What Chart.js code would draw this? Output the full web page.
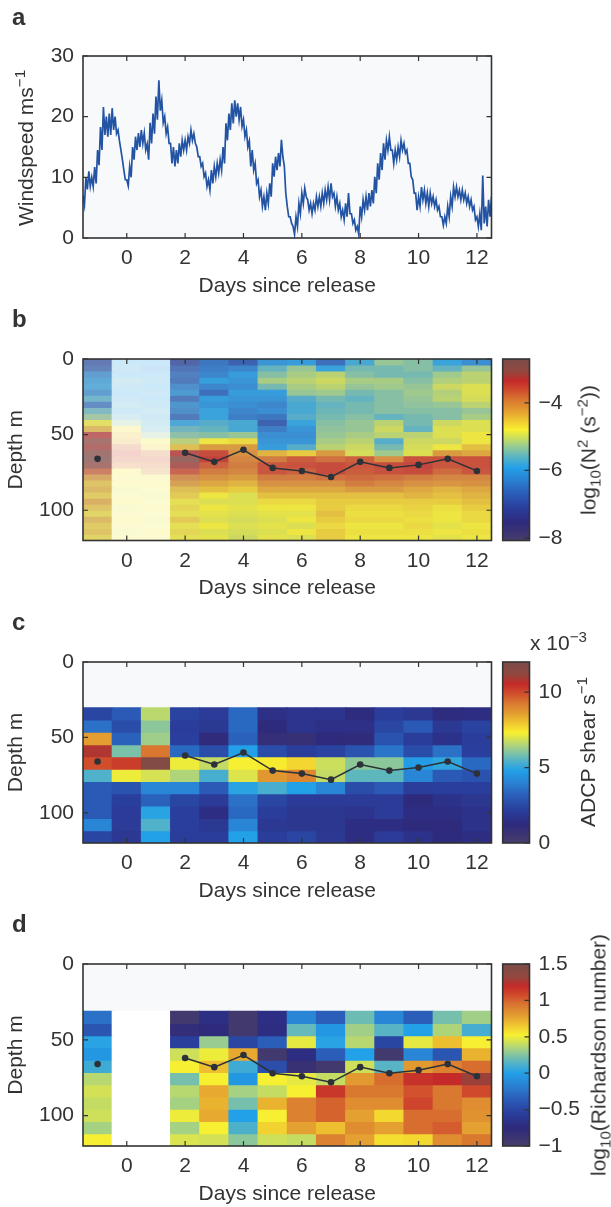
<!DOCTYPE html>
<html><head><meta charset="utf-8">
<script src="https://cdn.jsdelivr.net/npm/chart.js@4.4.1/dist/chart.umd.min.js"></script>
<style>
html,body{margin:0;padding:0;background:#fff;}
body{width:611px;height:1207px;position:relative;overflow:hidden;font-family:"Liberation Sans",Arial,Helvetica,sans-serif;color:#333;}
canvas{position:absolute;left:0;top:0;}
.letter{position:absolute;left:12px;font-weight:bold;font-size:24px;line-height:24px;z-index:5;}
.rot{position:absolute;white-space:nowrap;font-size:21px;line-height:21px;transform:translate(-50%,-50%) rotate(-90deg);z-index:5;}
.txt{position:absolute;white-space:nowrap;font-size:21px;line-height:21px;z-index:5;}
.sup{position:relative;top:-0.5em;font-size:0.72em;}
.sub{position:relative;top:0.3em;font-size:0.72em;}
</style></head><body>
<canvas id="cA" width="611" height="1207"></canvas>
<canvas id="cB" width="611" height="1207"></canvas>
<canvas id="cBbar" width="611" height="1207"></canvas>
<canvas id="cC" width="611" height="1207"></canvas>
<canvas id="cCbar" width="611" height="1207"></canvas>
<canvas id="cD" width="611" height="1207"></canvas>
<canvas id="cDbar" width="611" height="1207"></canvas>

<div class="letter" style="top:5px">a</div>
<div class="letter" style="top:307px">b</div>
<div class="letter" style="top:610px">c</div>
<div class="letter" style="top:912px">d</div>
<div class="rot" style="left:26px;top:148px">Windspeed ms<span class="sup">−1</span></div>
<div class="rot" style="left:589px;top:450px">log<span class="sub">10</span>(N<span class="sup">2</span> (s<span class="sup">−2</span>))</div>
<div class="txt" style="left:530px;top:632px">x 10<span class="sup">−3</span></div>
<div class="rot" style="left:588px;top:752px">ADCP shear s<span class="sup">−1</span></div>
<div class="rot" style="left:599px;top:1055px">log<span class="sub">10</span>(Richardson number)</div>

<script>
// ---------------- DATA ----------------
const days = [-1,0,1,2,3,4,5,6,7,8,9,10,11,12];
const xTickValues = [0,2,4,6,8,10,12];
const windTickValues = [0,10,20,30];
const depthTickValues = [0,50,100];
const n2TickValues = [-8,-6,-4];
const shearTickValues = [0,5,10];
const riTickValues = [-1,-0.5,0,0.5,1,1.5];

// windspeed envelope, samples every 0.1 day from -1.5 to 12.5
const windStartDay = -1.5;
const windStepDay = 0.1;
const windHigh = [
 7.0,10.0,11.0,10.0,11.7,14.5,18.3,21.6,20.0,20.5,
 21.4,20.0,17.8,14.5,11.2,9.6,11.8,15.0,16.7,17.3,
 17.8,17.3,15.5,19.0,20.5,23.3,26.0,22.7,20.0,18.3,
 15.6,15.0,14.5,15.6,16.1,16.1,16.7,17.8,17.2,15.0,
 13.4,12.3,10.7,9.6,11.2,11.8,12.3,12.9,15.0,18.9,
 20.5,22.2,22.7,22.2,21.6,19.5,17.8,16.0,14.5,12.3,
 9.6,7.9,6.8,7.4,9.0,12.3,13.4,14.0,16.2,11.8,
 5.2,3.5,1.9,3.5,5.7,7.4,8.2,6.3,5.7,5.7,
 6.8,6.8,7.4,7.9,8.4,9.0,7.4,6.8,5.7,4.6,
 5.7,7.4,4.0,3.0,1.9,5.2,6.3,6.8,7.4,7.9,
 10.1,12.3,14.0,15.6,16.1,16.7,14.5,14.5,15.0,16.1,
 15.6,14.5,12.3,9.6,7.4,6.8,8.4,7.9,7.4,7.4,
 6.8,6.3,5.2,3.5,3.5,5.2,6.8,8.4,8.4,7.9,
 7.9,7.4,6.8,6.3,5.2,3.5,4.0,10.3,5.2,6.3,
 6.8];
const windLow = [
 5.5,8.0,8.5,8.5,9.0,12.0,14.5,17.0,16.7,17.0,
 17.8,17.2,16.0,12.9,9.6,8.6,10.0,12.9,14.5,15.0,
 15.6,14.5,12.9,15.6,17.2,19.5,21.0,19.0,17.2,15.6,
 12.3,11.8,12.3,13.4,14.5,14.5,15.6,16.1,15.6,13.4,
 11.8,10.1,8.5,7.9,9.0,10.1,10.7,11.2,12.3,16.1,
 17.8,18.9,20.0,19.5,18.4,16.7,15.0,11.8,11.2,9.0,
 6.8,5.2,4.6,5.7,6.8,10.1,11.2,11.8,13.4,7.4,
 3.5,2.4,0.6,1.9,4.0,5.7,6.8,4.6,4.0,4.6,
 5.2,5.2,5.7,6.3,6.3,6.8,5.2,4.6,3.5,3.0,
 3.5,4.0,2.4,1.3,0.6,3.5,4.6,4.6,5.2,5.7,
 7.4,9.6,11.2,12.9,14.5,14.5,12.3,12.9,13.4,14.5,
 14.0,12.3,10.1,7.4,4.6,5.2,6.3,5.7,5.2,5.7,
 5.2,4.6,3.5,2.1,2.4,3.5,5.2,6.8,6.8,6.3,
 6.3,5.7,5.2,4.6,3.0,1.9,1.3,2.4,1.9,3.5,
 5.2];

// mixed layer depth (m) per day (no estimate on days 0 and 1)
const mixedLayerDepth = [66,null,null,62,68,60,72,74,78,68,72,70,66,74];

// N2 profiles: log10(N^2), one profile per day, 4 m bins 0..120 m
const n2DepthEdges = [0,4,8,12,16,20,24,28,32,36,40,44,48,52,56,60,64,68,72,76,80,84,88,92,96,100,104,108,112,116,120];
const n2Profiles = [
 [-6.9,-6.7,-6.2,-6.0,-5.9,-6.2,-5.7,-6.5,-5.6,-5.3,-4.8,-4.4,-3.3,-3.1,-3.2,-3.0,-2.9,-3.1,-3.7,-4.2,-4.5,-4.4,-4.6,-4.3,-4.5,-4.7,-4.4,-4.6,-4.5,-4.7],
 [-5.9,-5.8,-5.9,-5.7,-5.8,-5.9,-5.8,-5.7,-5.8,-5.6,-5.3,-4.7,-4.5,-4.4,-3.8,-3.6,-3.7,-4.0,-4.8,-4.85,-4.8,-4.9,-4.85,-4.8,-4.9,-4.85,-4.8,-4.85,-4.9,-4.85],
 [-5.9,-6.1,-5.9,-5.8,-5.9,-5.8,-5.9,-5.8,-5.7,-5.8,-5.7,-5.6,-5.3,-4.8,-4.6,-3.9,-3.7,-3.9,-4.1,-4.85,-4.8,-4.85,-4.9,-4.85,-4.8,-4.85,-4.9,-4.85,-4.8,-4.85],
 [-7.0,-6.7,-6.5,-6.6,-6.3,-6.1,-6.6,-6.2,-6.3,-6.6,-5.9,-5.6,-5.4,-5.1,-4.5,-3.3,-3.0,-3.2,-3.6,-4.0,-4.2,-4.5,-4.6,-4.8,-4.7,-4.8,-4.6,-4.8,-4.7,-4.8],
 [-6.5,-6.4,-6.3,-5.95,-6.3,-6.6,-6.0,-6.1,-5.9,-5.9,-5.7,-5.6,-5.4,-4.8,-4.2,-3.5,-3.4,-3.7,-3.9,-4.1,-4.3,-4.5,-4.8,-4.9,-4.8,-4.85,-4.9,-4.8,-4.9,-4.85],
 [-6.8,-6.3,-6.0,-6.1,-6.2,-6.0,-6.1,-6.2,-6.3,-6.4,-5.8,-5.8,-5.3,-4.7,-4.2,-4.1,-4.0,-3.9,-4.0,-4.2,-4.4,-4.6,-4.9,-4.9,-4.85,-4.9,-4.95,-4.9,-4.95,-5.0],
 [-6.1,-5.6,-5.4,-5.2,-5.5,-6.0,-6.1,-6.3,-6.2,-6.5,-6.8,-6.4,-6.2,-6.1,-6.0,-4.4,-3.9,-3.6,-3.6,-3.9,-4.1,-4.3,-4.5,-4.7,-4.8,-4.85,-4.9,-4.85,-4.9,-4.85],
 [-6.0,-5.3,-5.2,-5.1,-5.2,-5.3,-5.7,-5.8,-5.8,-5.7,-5.9,-6.1,-6.2,-6.1,-5.7,-4.6,-3.65,-3.55,-3.7,-3.9,-4.1,-4.3,-4.5,-4.7,-4.8,-4.85,-4.8,-4.9,-4.8,-4.9],
 [-6.6,-5.9,-5.1,-5.0,-5.1,-5.25,-5.5,-5.6,-5.55,-5.5,-5.4,-5.35,-5.3,-5.2,-5.1,-4.2,-3.8,-3.5,-3.5,-3.8,-4.1,-4.3,-4.5,-4.6,-4.6,-4.5,-4.6,-4.7,-4.6,-4.6],
 [-5.8,-5.5,-5.4,-5.2,-5.3,-5.5,-5.6,-5.5,-5.5,-5.4,-5.3,-5.3,-5.2,-5.1,-5.0,-4.95,-3.7,-3.6,-3.65,-3.75,-3.9,-4.2,-4.5,-4.6,-4.7,-4.75,-4.7,-4.8,-4.75,-4.8],
 [-5.3,-5.5,-5.5,-5.2,-5.25,-5.4,-5.4,-5.4,-5.4,-5.6,-5.1,-5.0,-5.1,-5.7,-5.5,-5.25,-4.1,-3.5,-3.55,-3.8,-4.0,-4.2,-4.5,-4.6,-4.7,-4.75,-4.7,-4.8,-4.75,-4.8],
 [-5.4,-5.4,-5.5,-5.4,-5.3,-5.25,-5.3,-5.35,-5.4,-5.5,-5.5,-5.6,-5.1,-5.0,-4.95,-4.9,-3.55,-3.45,-3.5,-3.9,-4.1,-4.3,-4.4,-4.6,-4.65,-4.7,-4.75,-4.7,-4.75,-4.8],
 [-5.9,-5.6,-5.25,-5.15,-5.0,-5.15,-5.1,-5.3,-5.4,-5.4,-5.0,-4.9,-4.9,-5.0,-4.8,-4.2,-3.55,-3.6,-3.75,-4.0,-4.15,-4.4,-4.5,-4.6,-4.75,-4.8,-4.8,-4.85,-4.8,-4.85],
 [-6.2,-5.3,-5.1,-5.1,-4.9,-4.9,-4.95,-5.1,-5.3,-5.2,-4.9,-4.9,-4.8,-4.8,-4.5,-4.3,-3.55,-3.55,-3.6,-4.0,-4.1,-4.3,-4.4,-4.5,-4.6,-4.7,-4.7,-4.8,-4.75,-4.8]
];

// ADCP shear (x1e-3 s^-1): one row per depth bin, values across days
const shearDepthEdges = [30.3,38.5,46.6,54.8,62.9,71.1,79.2,87.4,95.5,103.7,111.8,120];
const shearRows = [
 [2.4,3.0,6.6,2.3,2.0,3.4,1.5,1.7,1.7,1.3,2.1,1.9,1.3,1.4],
 [3.6,2.6,6.1,2.1,1.9,3.4,1.2,1.7,1.5,1.5,2.4,3.0,1.9,2.3],
 [8.6,3.2,6.3,2.2,1.1,3.2,0.9,0.8,1.2,1.1,2.8,2.1,1.6,2.1],
 [10.8,5.9,9.3,3.4,2.6,4.8,2.6,2.1,2.3,2.8,3.7,2.6,3.6,2.2],
 [9.9,10.2,11.7,7.2,6.7,7.3,7.4,7.7,6.8,6.1,6.1,4.7,5.0,3.4],
 [5.4,7.2,6.9,6.5,5.3,7.0,8.7,9.0,6.7,5.6,5.6,4.1,3.0,2.8],
 [3.0,2.8,4.1,4.1,3.0,4.9,5.3,4.8,4.1,2.6,3.0,2.1,2.2,2.2],
 [3.0,2.2,3.2,2.4,2.0,3.6,2.4,2.0,2.0,2.0,2.0,1.2,1.6,1.8],
 [3.0,2.0,4.9,2.2,1.4,3.4,2.1,1.8,1.8,1.7,2.0,1.4,1.4,1.6],
 [4.1,2.0,5.4,2.2,1.9,4.1,1.9,1.8,1.8,1.4,1.4,1.2,1.2,1.6],
 [2.4,1.9,4.8,2.1,2.1,4.8,2.1,2.4,1.9,1.4,2.0,1.6,1.2,1.4]
];

// log10 Richardson number: one row per depth bin (null = no data)
const riDepthEdges = [31.1,39.2,47.3,55.3,63.4,71.5,79.6,87.7,95.8,103.8,111.9,120];
const riRows = [
 [-0.25,null,null,-0.95,-0.7,-0.95,-0.7,-0.15,-0.35,0.2,-0.15,-0.35,0.22,0.32],
 [-0.4,null,null,-0.8,-0.75,-0.95,-0.72,0.18,-0.05,0.32,0.15,0.0,0.35,0.1],
 [0.02,null,null,-0.55,0.3,-0.5,-0.35,0.48,0.02,0.37,-0.5,0.48,0.68,0.52],
 [-0.05,null,null,0.42,0.5,0.75,-0.95,-0.72,-0.35,0.0,-0.95,-0.15,-0.4,0.72],
 [0.08,null,null,0.52,0.68,0.08,-0.45,-0.85,-0.95,0.42,0.15,0.8,0.9,0.97],
 [0.37,null,null,0.22,0.52,-0.05,0.52,0.48,0.4,0.8,0.97,1.17,1.2,1.3],
 [0.43,null,null,0.37,0.75,0.33,0.4,0.52,1.15,0.93,0.93,1.05,0.93,1.08],
 [0.4,null,null,0.33,0.72,0.22,0.72,0.9,1.0,0.85,0.85,1.1,0.93,0.85],
 [0.42,null,null,0.5,0.75,0.0,0.52,0.9,1.0,0.78,0.6,0.97,0.97,0.83],
 [0.33,null,null,0.33,0.52,0.12,0.62,0.78,0.68,0.85,0.78,0.97,1.02,0.78],
 [0.52,null,null,0.45,0.43,0.27,0.42,0.4,0.9,0.78,0.58,0.6,0.85,0.93]
];

// ---------------- STYLE / LAYOUT ----------------
const PAGE_W = 611, PAGE_H = 1207;
const PLOT_L = 83, PLOT_R = 491.5;
const CB_L = 502.7, CB_R = 529.5, CB_AXIS_W = 60;
const XAXIS_H = 60.6;
const PANEL = { a:[56,238], b:[359,540.5], c:[662,843], d:[964,1146] };
const N2_RANGE = [-8.08,-2.7], SHEAR_RANGE = [0,12], RI_RANGE = [-1,1.5];
const n2ColumnOpacity = [0.62,0.24,0.24,0.72,0.85,0.85,0.85,0.85,0.85,0.85,0.85,0.85,0.85,0.85];
const n2ColumnVeil = ['#c2c2c2','#ffffff','#ffffff','#b4b4b4','#a8a8a8','#a8a8a8','#a8a8a8','#a8a8a8','#a8a8a8','#a8a8a8','#a8a8a8','#a8a8a8','#a8a8a8','#a8a8a8'];
const PLOT_BG = '#f7f9fb';
const CMAP = [[0,'#473d6b'],[0.10,'#2e2a7c'],[0.18,'#2a3e9c'],[0.27,'#2a62bc'],[0.33,'#2a80d2'],[0.40,'#22a0e8'],[0.46,'#58b4c4'],[0.52,'#98cc90'],[0.57,'#d0e058'],[0.61,'#f8f030'],[0.66,'#f0c830'],[0.72,'#e29a30'],[0.78,'#d87430'],[0.83,'#d04a2c'],[0.88,'#c42a2a'],[0.93,'#92473e'],[1,'#7a4d4a']];

Chart.defaults.font.family = '"Liberation Sans", Arial, Helvetica, sans-serif';
Chart.defaults.font.size = 21;
Chart.defaults.color = '#333';
Chart.defaults.animation = false;

function rgbOf(h){ const n=parseInt(h.slice(1),16); return [(n>>16)&255,(n>>8)&255,n&255]; }
function cmapRGB(t){
  t = Math.max(0, Math.min(1, t));
  for (let i=1;i<CMAP.length;i++){
    if (t <= CMAP[i][0]) {
      const t0=CMAP[i-1][0], t1=CMAP[i][0]; const a=rgbOf(CMAP[i-1][1]), b=rgbOf(CMAP[i][1]);
      const f=(t-t0)/(t1-t0); return a.map((v,k)=>v+(b[k]-v)*f);
    }
  }
  return rgbOf(CMAP[CMAP.length-1][1]);
}
function cellColor(v, range, op, veil){
  if (v === null || v === undefined) return '#ffffff';
  const c = cmapRGB((v-range[0])/(range[1]-range[0]));
  const w = rgbOf(veil || '#ffffff'); const o = (op===undefined)?1:op;
  const m = c.map((x,k)=>Math.round(x*o + w[k]*(1-o)));
  return `rgb(${m[0]},${m[1]},${m[2]})`;
}
const minus = v => String(v).replace('-', '\u2212');

const framePlugin = {
  id: 'frame',
  beforeDraw(chart, _a, o) {
    if (!o.bg) return;
    const a = chart.chartArea, c = chart.ctx;
    c.save(); c.fillStyle = o.bg; c.fillRect(a.left, a.top, a.right-a.left, a.bottom-a.top); c.restore();
  },
  afterDraw(chart, _a, o) {
    const a = chart.chartArea, c = chart.ctx, L = 5;
    c.save(); c.strokeStyle = '#333'; c.lineWidth = 1.2; c.beginPath();
    if (o.xTicks) {
      const sx = chart.scales.x;
      sx.ticks.forEach(t => { const p = sx.getPixelForValue(t.value);
        c.moveTo(p, a.bottom); c.lineTo(p, a.bottom - L); c.moveTo(p, a.top); c.lineTo(p, a.top + L); });
    }
    if (o.yTicks) {
      const sy = chart.scales.y;
      sy.ticks.forEach(t => { const p = sy.getPixelForValue(t.value);
        if (o.yLeft !== false) { c.moveTo(a.left, p); c.lineTo(a.left + L, p); }
        c.moveTo(a.right, p); c.lineTo(a.right - L, p); });
    }
    c.stroke();
    c.lineWidth = 1.6; c.strokeRect(a.left, a.top, a.right-a.left, a.bottom-a.top);
    c.restore();
  }
};

function xScale(){
  return { type:'linear', min:-1.5, max:12.5, offset:false,
    grid:{display:false, drawTicks:false}, border:{display:false},
    ticks:{ padding:8, maxRotation:0, autoSkip:false },
    afterBuildTicks: s => { s.ticks = xTickValues.map(v=>({value:v})); },
    afterFit: s => { s.height = XAXIS_H; },
    title:{ display:true, text:'Days since release', padding:{top:0,bottom:0} } };
}
function depthScale(){
  return { type:'linear', reverse:true, min:0, max:120,
    grid:{display:false, drawTicks:false}, border:{display:false},
    ticks:{ padding:9 },
    afterBuildTicks: s => { s.ticks = depthTickValues.map(v=>({value:v})); },
    afterFit: s => { s.width = PLOT_L; },
    title:{ display:true, text:'Depth m', padding:{top:4,bottom:0} } };
}
function heatDatasets(getVal, edges, range, opac, veil){
  const out = [];
  for (let r=0; r<edges.length-1; r++){
    out.push({ type:'bar', order:2, grouped:false, barPercentage:1, categoryPercentage:1,
      borderWidth:0, inflateAmount:0.5,
      data: days.map(d => ({x:d, y:[edges[r], edges[r+1]]})),
      backgroundColor: days.map((d,i) => cellColor(getVal(i,r), range, opac?opac[i]:1, veil?veil[i]:'#ffffff')) });
  }
  return out;
}
function mldDataset(){
  return { type:'line', order:0, data: days.map((d,i)=>({x:d, y:mixedLayerDepth[i]})),
    borderColor:'#2d3138', backgroundColor:'#2d3138', borderWidth:1.5,
    pointRadius:3.3, pointBorderWidth:0, spanGaps:false, tension:0 };
}
function heatChart(id, panel, datasets, bg){
  const [top, bottom] = panel;
  return new Chart(document.getElementById(id), {
    type:'bar', data:{ datasets },
    options:{ responsive:false, animation:false, events:[],
      layout:{ padding:{ left:0, top, right: PAGE_W-PLOT_R, bottom: PAGE_H-bottom-XAXIS_H } },
      plugins:{ legend:{display:false}, tooltip:{enabled:false}, frame:{ bg, xTicks:true, yTicks:true } },
      scales:{ x: xScale(), y: depthScale() } },
    plugins:[framePlugin] });
}
function colorbar(id, panel, range, tickValues){
  const [top, bottom] = panel;
  return new Chart(document.getElementById(id), {
    type:'bar',
    data:{ labels:['scale'], datasets:[{ data:[[range[0], range[1]]], borderWidth:0,
      barPercentage:1, categoryPercentage:1,
      backgroundColor: (ctx) => { const a = ctx.chart.chartArea; if (!a) return '#888';
        const g = ctx.chart.ctx.createLinearGradient(0, a.bottom, 0, a.top);
        CMAP.forEach(([t,c]) => g.addColorStop(t, c)); return g; } }] },
    options:{ responsive:false, animation:false, events:[],
      layout:{ padding:{ left:CB_L, right: PAGE_W-CB_R-CB_AXIS_W, top, bottom: PAGE_H-bottom } },
      plugins:{ legend:{display:false}, tooltip:{enabled:false}, frame:{ yTicks:true, yLeft:false } },
      scales:{ x:{ display:false },
        y:{ position:'right', min:range[0], max:range[1],
          grid:{display:false, drawTicks:false}, border:{display:false},
          ticks:{ padding:9, callback: v => minus(v) },
          afterBuildTicks: s => { s.ticks = tickValues.map(v=>({value:v})); },
          afterFit: s => { s.width = CB_AXIS_W; } } } },
    plugins:[framePlugin] });
}

// ---------------- PANEL a ----------------
const windPoints = [];
windHigh.forEach((h,i) => {
  const t = windStartDay + i*windStepDay;
  windPoints.push({x:t, y:h});
  windPoints.push({x:t + windStepDay/2, y:windLow[i]});
});
new Chart(document.getElementById('cA'), {
  type:'line',
  data:{ datasets:[{ data: windPoints, borderColor:'#2353a3', borderWidth:1.7, pointRadius:0, tension:0 }] },
  options:{ responsive:false, animation:false, events:[],
    layout:{ padding:{ left:0, top:PANEL.a[0], right: PAGE_W-PLOT_R, bottom: PAGE_H-PANEL.a[1]-XAXIS_H } },
    plugins:{ legend:{display:false}, tooltip:{enabled:false}, frame:{ bg:PLOT_BG, xTicks:true, yTicks:true } },
    scales:{ x: xScale(),
      y:{ type:'linear', min:0, max:30, grid:{display:false, drawTicks:false}, border:{display:false},
        ticks:{ padding:9 },
        afterBuildTicks: s => { s.ticks = windTickValues.map(v=>({value:v})); },
        afterFit: s => { s.width = PLOT_L; } } } },
  plugins:[framePlugin] });

// ---------------- PANELS b, c, d ----------------
heatChart('cB', PANEL.b,
  heatDatasets((i,r)=>n2Profiles[i][r], n2DepthEdges, N2_RANGE, n2ColumnOpacity, n2ColumnVeil).concat([mldDataset()]), null);
colorbar('cBbar', PANEL.b, N2_RANGE, n2TickValues);

heatChart('cC', PANEL.c,
  heatDatasets((i,r)=>shearRows[r][i], shearDepthEdges, SHEAR_RANGE).concat([mldDataset()]), PLOT_BG);
colorbar('cCbar', PANEL.c, SHEAR_RANGE, shearTickValues);

heatChart('cD', PANEL.d,
  heatDatasets((i,r)=>riRows[r][i], riDepthEdges, RI_RANGE).concat([mldDataset()]), PLOT_BG);
colorbar('cDbar', PANEL.d, RI_RANGE, riTickValues);
</script>
</body></html>
